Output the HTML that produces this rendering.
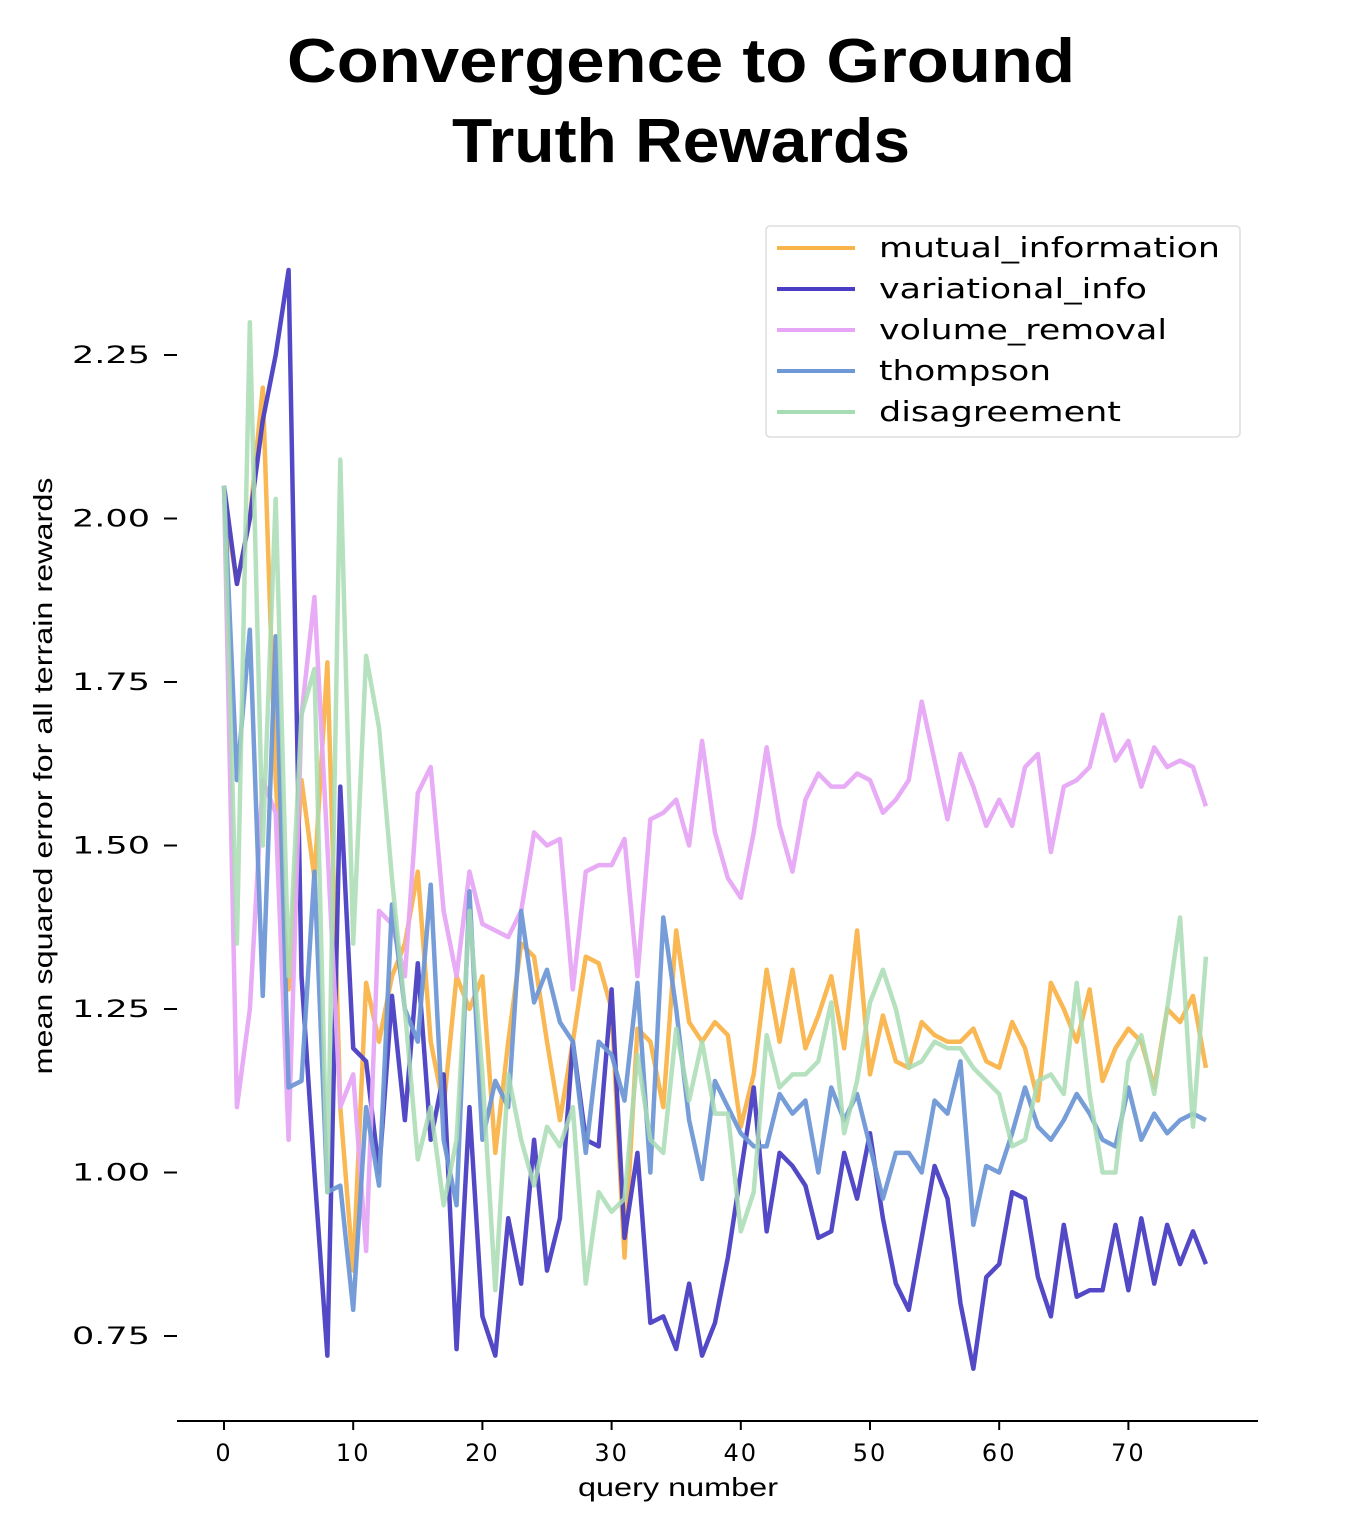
<!DOCTYPE html>
<html><head><meta charset="utf-8"><style>
body{margin:0;background:#fff;}
svg text{font-family:"DejaVu Sans","Liberation Sans",sans-serif;}
</style></head><body>
<svg width="1362" height="1512" viewBox="0 0 1362 1512" xmlns="http://www.w3.org/2000/svg">
<text x="681" y="82" text-anchor="middle" font-size="62" font-weight="bold" textLength="788" lengthAdjust="spacingAndGlyphs" style="font-family:'Liberation Sans',sans-serif">Convergence to  Ground</text>
<text x="681" y="162" text-anchor="middle" font-size="62" font-weight="bold" textLength="458" lengthAdjust="spacingAndGlyphs" style="font-family:'Liberation Sans',sans-serif">Truth Rewards</text>
<g id="axes"></g>
<g id="lines"></g>
<g id="legend"></g>
<text x="678" y="1496" text-anchor="middle" font-size="26" textLength="200" lengthAdjust="spacingAndGlyphs" style="font-family:'Liberation Sans',sans-serif">query number</text>
<text transform="translate(52,776) rotate(-90)" text-anchor="middle" font-size="26" textLength="597" lengthAdjust="spacingAndGlyphs" style="font-family:'Liberation Sans',sans-serif">mean squared error for all terrain rewards</text>
</svg>
<script>
const xTicks=[0,10,20,30,40,50,60,70];
const yTicks=[0.75,1.00,1.25,1.50,1.75,2.00,2.25];
const seriesNames=["mutual_information","variational_info","volume_removal","thompson","disagreement"];
const mutual=[2.03,1.9,2.0,2.2,1.6,1.28,1.6,1.45,1.78,1.1,0.85,1.29,1.2,1.3,1.35,1.46,1.2,1.1,1.3,1.25,1.3,1.03,1.2,1.35,1.33,1.2,1.08,1.2,1.33,1.32,1.25,0.87,1.22,1.2,1.1,1.37,1.23,1.2,1.23,1.21,1.07,1.15,1.31,1.2,1.31,1.19,1.24,1.3,1.19,1.37,1.15,1.24,1.17,1.16,1.23,1.21,1.2,1.2,1.22,1.17,1.16,1.23,1.19,1.11,1.29,1.25,1.2,1.28,1.14,1.19,1.22,1.2,1.13,1.25,1.23,1.27,1.16];
const variational=[2.05,1.9,2.0,2.15,2.25,2.38,1.3,1.0,0.72,1.59,1.19,1.17,1.0,1.27,1.08,1.32,1.05,1.15,0.73,1.1,0.78,0.72,0.93,0.83,1.05,0.85,0.93,1.2,1.05,1.04,1.28,0.9,1.03,0.77,0.78,0.73,0.83,0.72,0.77,0.87,1.0,1.13,0.91,1.03,1.01,0.98,0.9,0.91,1.03,0.96,1.06,0.93,0.83,0.79,0.9,1.01,0.96,0.8,0.7,0.84,0.86,0.97,0.96,0.84,0.78,0.92,0.81,0.82,0.82,0.92,0.82,0.93,0.83,0.92,0.86,0.91,0.86];
const volume=[2.05,1.1,1.25,1.6,1.55,1.05,1.7,1.88,1.5,1.1,1.15,0.88,1.4,1.38,1.3,1.58,1.62,1.4,1.3,1.46,1.38,1.37,1.36,1.4,1.52,1.5,1.51,1.28,1.46,1.47,1.47,1.51,1.3,1.54,1.55,1.57,1.5,1.66,1.52,1.45,1.42,1.52,1.65,1.53,1.46,1.57,1.61,1.59,1.59,1.61,1.6,1.55,1.57,1.6,1.72,1.63,1.54,1.64,1.59,1.53,1.57,1.53,1.62,1.64,1.49,1.59,1.6,1.62,1.7,1.63,1.66,1.59,1.65,1.62,1.63,1.62,1.56];
const thompson=[2.05,1.6,1.83,1.27,1.82,1.13,1.14,1.46,0.97,0.98,0.79,1.1,0.98,1.41,1.25,1.2,1.44,1.05,0.95,1.43,1.05,1.14,1.1,1.4,1.26,1.31,1.23,1.2,1.03,1.2,1.18,1.11,1.29,1.0,1.39,1.25,1.08,0.99,1.14,1.1,1.06,1.04,1.04,1.12,1.09,1.11,1.0,1.13,1.08,1.12,1.04,0.96,1.03,1.03,1.0,1.11,1.09,1.17,0.92,1.01,1.0,1.06,1.13,1.07,1.05,1.08,1.12,1.09,1.05,1.04,1.13,1.05,1.09,1.06,1.08,1.09,1.08];
const disagreement=[2.05,1.35,2.3,1.5,2.03,1.3,1.7,1.77,0.97,2.09,1.35,1.79,1.68,1.45,1.25,1.02,1.1,0.95,1.05,1.4,1.15,0.82,1.15,1.05,0.98,1.07,1.04,1.1,0.83,0.97,0.94,0.96,1.18,1.05,1.03,1.22,1.11,1.2,1.09,1.09,0.91,0.97,1.21,1.13,1.15,1.15,1.17,1.26,1.06,1.14,1.26,1.31,1.25,1.16,1.17,1.2,1.19,1.19,1.16,1.14,1.12,1.04,1.05,1.14,1.15,1.12,1.29,1.12,1.0,1.0,1.17,1.21,1.12,1.25,1.39,1.07,1.33];
const seriesData=[mutual,variational,volume,thompson,disagreement];
const colors=["#f9b44a","#4a3fc4","#e7a6f5","#6f98d6","#a8dcb4"];
const opac=[0.95,0.95,0.95,0.95,0.85];
const NS="http://www.w3.org/2000/svg";
const X=v=>224+v*12.92;
const Y=v=>355+(2.25-v)*654;
function mk(t,a,p){const e=document.createElementNS(NS,t);for(const k in a)e.setAttribute(k,a[k]);p.appendChild(e);return e;}
const ax=document.getElementById('axes');
const xl=mk('line',{x1:177,x2:1258,y1:1421,y2:1421,stroke:'#000','stroke-width':2},ax);


xTicks.forEach(t=>{
 const l=mk('line',{x1:X(t),x2:X(t),y1:1421,y2:1430,stroke:'#000','stroke-width':2},ax);
 
 
 const tx=mk('text',{x:X(t),y:1461,'text-anchor':'middle','font-size':24,'letter-spacing':2},ax);
 
 
 tx.textContent=t;
});
yTicks.forEach(t=>{
 const l=mk('line',{x1:164,x2:177,y1:Y(t),y2:Y(t),stroke:'#000','stroke-width':2},ax);
 
 
 const tx=mk('text',{x:150,y:Y(t)+8,'text-anchor':'end','font-size':24,textLength:78,lengthAdjust:'spacingAndGlyphs'},ax);
 
 
 tx.textContent=t.toFixed(2);
});
const lg=document.getElementById('lines');
seriesData.forEach((d,i)=>{
 const p=mk('polyline',{points:d.map((v,j)=>X(j)+','+Y(v)).join(' '),fill:'none',stroke:colors[i],'stroke-width':4.5,'stroke-linejoin':'round','stroke-opacity':opac[i]},lg);
 
 
});
const legW=[341,268,288,172,242];
const leg=document.getElementById('legend');
const box=mk('rect',{x:766,y:226,width:474,height:211,rx:4,fill:'#fff','fill-opacity':0.85,stroke:'#ddd','stroke-width':1.5},leg);


seriesNames.forEach((n,i)=>{
 const y=248+i*41;
 const l=mk('line',{x1:777,x2:855,y1:y,y2:y,stroke:colors[i],'stroke-width':4},leg);
 
 
 const t=mk('text',{x:879,y:y+9,'font-size':28,textLength:legW[i],lengthAdjust:'spacingAndGlyphs'},leg);
 
 
 t.textContent=n;
});
</script>
</body></html>
